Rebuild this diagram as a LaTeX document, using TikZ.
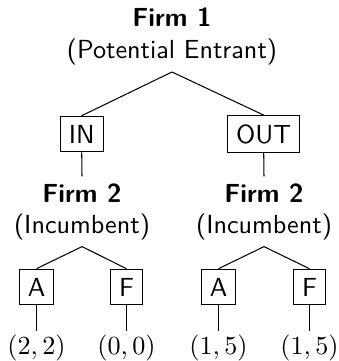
\documentclass[tikz,border=0pt]{standalone}
\begin{document}
\begin{tikzpicture}[x=0.3824pt, y=-0.3824pt,
  every node/.style={font=\sffamily},
  title/.style={font=\sffamily\bfseries, anchor=base, inner sep=2.4pt},
  role/.style={anchor=base, inner sep=2.5pt},
  move/.style={draw, inner sep=3.33pt},
  payoff/.style={anchor=base, inner sep=1.3pt}]
\useasboundingbox (0,0) rectangle (338,361);

% first mover
\node[title] (t1) at (172,26.7) {Firm 1};
\node[role]  (s1) at (172,58.4) {(Potential Entrant)};

\node[move] (in)  at (81.7,134) {IN};
\node[move] (out) at (263.7,134) {OUT};
\draw (s1.south) -- (in.north);
\draw (s1.south) -- (out.north);

% second mover, after entry
\node[title] (t2a) at (82,202) {Firm 2};
\node[role]  (s2a) at (82,233) {(Incumbent)};
\draw (in.south) -- (t2a.north);

% second mover, no entry
\node[title] (t2b) at (264,202) {Firm 2};
\node[role]  (s2b) at (264,233) {(Incumbent)};
\draw (out.south) -- (t2b.north);

% responses
\node[move] (a1) at (36.5,287) {A};
\node[move] (f1) at (126.5,287) {F};
\node[move] (a2) at (218.5,287) {A};
\node[move] (f2) at (309.5,287) {F};
\draw (s2a.south) -- (a1.north);
\draw (s2a.south) -- (f1.north);
\draw (s2b.south) -- (a2.north);
\draw (s2b.south) -- (f2.north);

% payoffs
\node[payoff] (p1) at (36.5,354.6)  {$(2,2)$};
\node[payoff] (p2) at (126.5,354.6) {$(0,0)$};
\node[payoff] (p3) at (218.5,354.6) {$(1,5)$};
\node[payoff] (p4) at (309.5,354.6) {$(1,5)$};
\draw (a1.south) -- (p1.north);
\draw (f1.south) -- (p2.north);
\draw (a2.south) -- (p3.north);
\draw (f2.south) -- (p4.north);
\end{tikzpicture}
\end{document}
